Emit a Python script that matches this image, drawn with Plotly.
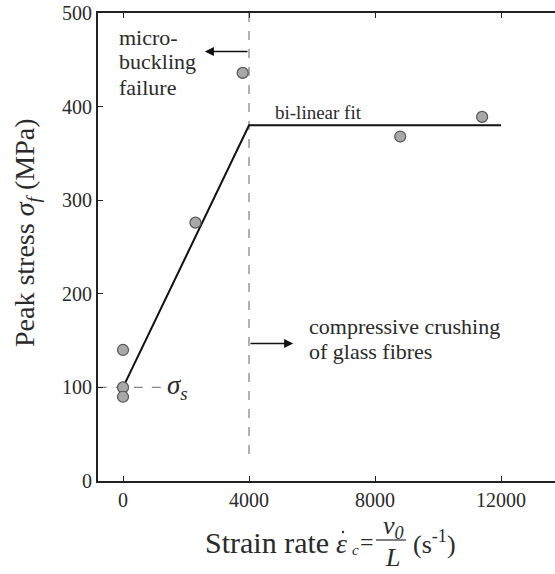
import plotly.graph_objects as go

# ---- data ----
strain_rate = [0, 0, 0, 2300, 3800, 8800, 11400]
peak_stress = [140, 100, 90, 276, 436, 368, 389]
fit_x = [0, 4000, 12000]
fit_y = [100, 380, 380]
transition_rate = 4000
sigma_s = 100
x_ticks = [0, 4000, 8000, 12000]
x_tick_labels = ["0", "4000", "8000", "12000"]
y_ticks = [0, 100, 200, 300, 400, 500]

FONT = "Liberation Serif, Times New Roman, serif"
TXT = "#2a2a2a"

W, H = 555, 574
L, T, B = 98, 13, 93
PW = W - L
PH = H - T - B


def px(xp):
    return (xp - L) / PW


def py(yp):
    return (H - B - yp) / PH


def ptext(x, y, text, size, xanchor="center", yanchor="middle", angle=0):
    return dict(x=px(x), y=py(y), xref="paper", yref="paper", text=text,
                xanchor=xanchor, yanchor=yanchor, showarrow=False, textangle=angle,
                font=dict(family=FONT, size=size, color=TXT))


fig = go.Figure()

# dashed reference lines
fig.add_trace(go.Scatter(x=[transition_rate, transition_rate], y=[500, 25], mode="lines",
                         line=dict(color="#888888", width=1.3, dash="dash"),
                         hoverinfo="skip", showlegend=False))
fig.add_trace(go.Scatter(x=[-800, 1250], y=[sigma_s, sigma_s], mode="lines",
                         line=dict(color="#888888", width=1.3, dash="dash"),
                         hoverinfo="skip", showlegend=False, cliponaxis=False))

# bi-linear fit
fig.add_trace(go.Scatter(x=fit_x, y=fit_y, mode="lines",
                         line=dict(color="#111111", width=2),
                         showlegend=False))

# data points
fig.add_trace(go.Scatter(x=strain_rate, y=peak_stress, mode="markers",
                         marker=dict(size=11, color="#a8a8a8",
                                     line=dict(color="#555555", width=1.2)),
                         showlegend=False))

ann = []
# arrows
ann.append(dict(x=2600, y=459, ax=transition_rate, ay=459, xref="x", yref="y",
                axref="x", ayref="y", showarrow=True, arrowhead=2, arrowsize=1.2,
                arrowwidth=1.5, arrowcolor="#111111", text=""))
ann.append(dict(x=5400, y=147, ax=transition_rate, ay=147, xref="x", yref="y",
                axref="x", ayref="y", showarrow=True, arrowhead=2, arrowsize=1.2,
                arrowwidth=1.5, arrowcolor="#111111", text=""))

# region labels, one line per annotation for tight line spacing
for i, line in enumerate(["micro-", "buckling", "failure"]):
    ann.append(ptext(117, 37 + 25 * i, line, 22, xanchor="left"))
for i, line in enumerate(["compressive crushing", "of glass fibres"]):
    ann.append(ptext(307, 326 + 25 * i, line, 22, xanchor="left"))
ann.append(ptext(273, 112, "bi-linear fit", 19, xanchor="left"))
ann.append(dict(x=1330, y=sigma_s, xref="x", yref="y", xanchor="left", yanchor="middle",
                showarrow=False, text="<i>σ</i><sub><i>s</i></sub>",
                font=dict(family=FONT, size=27, color=TXT)))

# y-axis title
ann.append(ptext(26, 233, "Peak stress <i>σ</i><sub><i>f</i></sub> (MPa)", 28, angle=-90))

# x-axis title composed with a fraction
ann.append(ptext(203, 542, "Strain rate", 30, xanchor="left"))
ann.append(ptext(341, 543, "<i>ε</i>", 28))
ann.append(ptext(355, 550, "<i>c</i>", 15))
ann.append(ptext(367, 542, "=", 24))
ann.append(ptext(393, 527, "<i>v</i><sub><i>0</i></sub>", 26))
ann.append(ptext(392, 557, "<i>L</i>", 26))
ann.append(ptext(411, 542, "(s<sup>-1</sup>)", 26, xanchor="left"))

shapes = [
    # fraction bar
    dict(type="line", xref="paper", yref="paper",
         x0=px(376), x1=px(406), y0=py(540), y1=py(540),
         line=dict(color=TXT, width=1.2)),
    # rate dot above epsilon
    dict(type="circle", xref="paper", yref="paper",
         x0=px(341.8), x1=px(344.2), y0=py(533.2), y1=py(530.8),
         fillcolor=TXT, line=dict(width=0)),
]

fig.update_layout(
    width=W, height=H,
    margin=dict(l=L, r=0, t=T, b=B, pad=0),
    paper_bgcolor="white", plot_bgcolor="white",
    annotations=ann,
    shapes=shapes,
    xaxis=dict(range=[-794, 13714], tickvals=x_ticks, ticktext=x_tick_labels,
               ticks="inside", ticklen=5,
               tickwidth=1.3, tickcolor="#222", showline=True, linecolor="#222",
               linewidth=2, mirror="ticks", showgrid=False, zeroline=False,
               tickfont=dict(family=FONT, size=20, color=TXT)),
    yaxis=dict(range=[0, 500], tickvals=y_ticks, ticks="inside", ticklen=5,
               tickwidth=1.3, tickcolor="#222", showline=True, linecolor="#222",
               linewidth=2, mirror=False, showgrid=False, zeroline=False,
               tickfont=dict(family=FONT, size=20, color=TXT)),
)

fig.write_html("out.html")
